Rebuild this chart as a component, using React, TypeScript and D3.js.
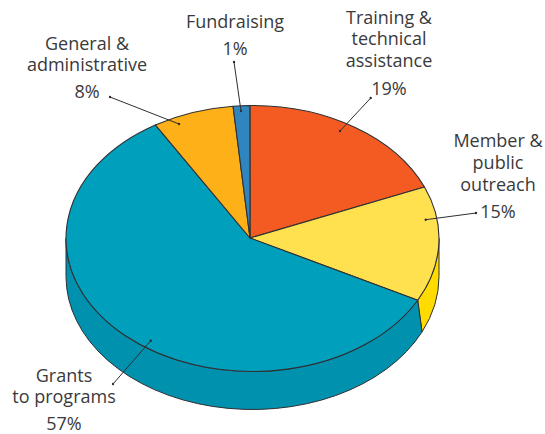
import React from "react";
import * as d3 from "d3";

// Labelled percentages
const categories = ["Training & technical assistance", "Member & public outreach", "Grants to programs", "General & administrative", "Fundraising"];
const labelPercents = [19, 15, 57, 8, 1];
// Shares as actually drawn in the picture (measured from slice boundaries)
const drawnShares = [18.9, 14.0, 58.6, 7.06, 1.44];
const topColors = ["#F35B22", "#FFE14F", "#009FBB", "#FDB017", "#2F86BE"];
const wallColors = ["#F35B22", "#FFDB00", "#0091AE", "#FDB017", "#2F86BE"];

const W = 545, H = 434;
const cx = 252.5, cy = 238.5, rx = 186.5, ry = 133, depth = 38;
const apexX = 250, apexY = 238;
const startDeg = -0.8;
const wallSkew = (3 * Math.PI) / 180;
const ink = "#3a3a3c";
const edge = "#2f2f33";

const labels = [
  { lines: ["Training &", "technical", "assistance", "19%"], x: 389, ys: [24, 45, 67, 95] },
  { lines: ["Member &", "public", "outreach", "15%"], x: 498, ys: [147, 169, 191, 218] },
  { lines: ["Grants", "to programs", "57%"], x: 64, ys: [382, 403, 430] },
  { lines: ["General &", "administrative", "8%"], x: 87, ys: [50, 71, 98] },
  { lines: ["Fundraising", "1%"], x: 235, ys: [28, 55] },
];
const leaders = [
  [370.7, 98, 340, 131],
  [476, 213, 425.7, 219.7],
  [113, 384, 150.7, 340.7],
  [110, 97, 179, 124],
  [234, 62, 241, 111],
];

export default function App() {
  const start = (startDeg * Math.PI) / 180;
  const pie = d3.pie<number>().sort(null).value((d) => d).startAngle(start).endAngle(start + 2 * Math.PI);
  const arcs = pie(drawnShares);
  const pt = (a: number, dy = 0) => [cx + rx * Math.sin(a), cy - ry * Math.cos(a) + dy];
  const lowBound = Math.PI / 2, highBound = (3 * Math.PI) / 2;
  const bottomAngle = (a: number) => (a === lowBound || a === highBound ? a : a - wallSkew);

  const walls = arcs
    .map((d, i) => {
      const a0 = Math.max(d.startAngle, lowBound);
      const a1 = Math.min(d.endAngle, highBound);
      if (a1 <= a0) return null;
      const [x0, y0] = pt(a0);
      const [x1, y1] = pt(a1);
      const [x2, y2] = pt(bottomAngle(a1), depth);
      const [x3, y3] = pt(bottomAngle(a0), depth);
      return {
        i,
        d: `M${x0},${y0}A${rx},${ry} 0 0 1 ${x1},${y1}L${x2},${y2}A${rx},${ry} 0 0 0 ${x3},${y3}Z`,
      };
    })
    .filter(Boolean) as { i: number; d: string }[];

  const slice = (d: d3.PieArcDatum<number>) => {
    const [x0, y0] = pt(d.startAngle);
    const [x1, y1] = pt(d.endAngle);
    const large = d.endAngle - d.startAngle > Math.PI ? 1 : 0;
    return `M${apexX},${apexY}L${x0},${y0}A${rx},${ry} 0 ${large} 1 ${x1},${y1}Z`;
  };

  return (
    <svg
      width={W}
      height={H}
      viewBox={`0 0 ${W} ${H}`}
      style={{ position: "fixed", left: 0, top: 0, background: "#fff" }}
    >
      <g stroke={edge} strokeWidth={1} strokeLinejoin="round">
        {walls.map((w) => (
          <path key={w.i} d={w.d} fill={wallColors[w.i]} />
        ))}
      </g>
      <g>
        {arcs.map((d, i) => (
          <path
            key={categories[i]}
            d={slice(d)}
            fill={topColors[i]}
            stroke={edge}
            strokeWidth={1.1}
            strokeLinejoin="round"
          />
        ))}
      </g>
      <g stroke={edge} fill={edge}>
        {leaders.map((l, i) => (
          <g key={i}>
            <line x1={l[0]} y1={l[1]} x2={l[2]} y2={l[3]} strokeWidth={1} />
            <circle cx={l[0]} cy={l[1]} r={1.2} stroke="none" />
            <circle cx={l[2]} cy={l[3]} r={1.2} stroke="none" />
          </g>
        ))}
      </g>
      <g fontFamily="'Open Sans', sans-serif" fontSize={18} fill={ink} textAnchor="middle">
        {labels.map((l, i) => (
          <text key={i} aria-label={`${categories[i]} ${labelPercents[i]}%`}>
            {l.lines.map((s, j) => (
              <tspan key={j} x={l.x} y={l.ys[j]}>
                {s}
              </tspan>
            ))}
          </text>
        ))}
      </g>
    </svg>
  );
}
